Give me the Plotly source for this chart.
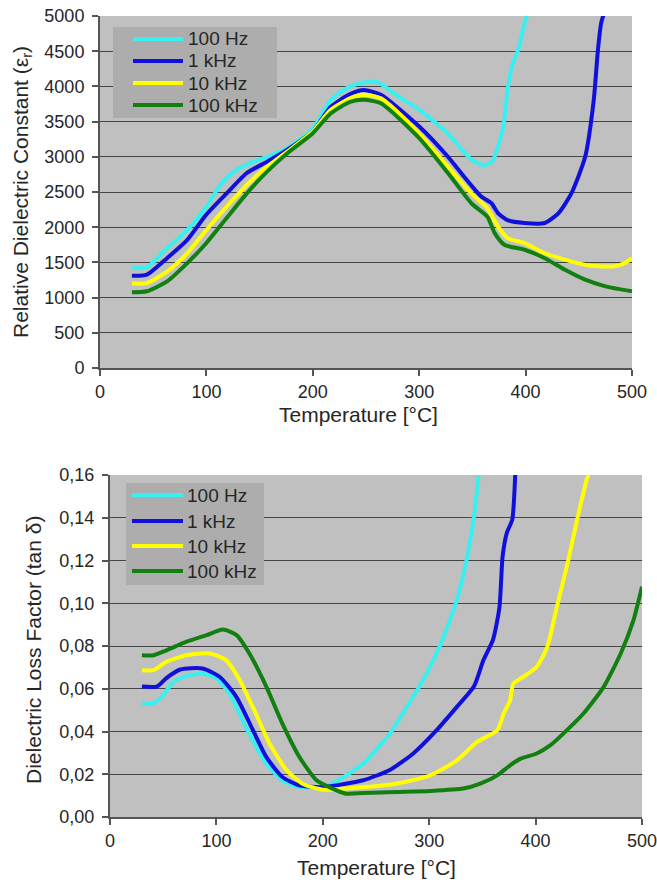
import plotly.graph_objects as go

# ---------------- Top chart: Relative dielectric constant ----------------
t_er_100hz = [30, 44, 63, 82, 100, 113, 126, 141, 157, 176, 200, 217, 235, 250, 261, 280, 300, 327, 349, 361, 369, 374, 379, 383, 388, 393, 399, 403]
er_100hz = [1420, 1430, 1700, 1960, 2290, 2600, 2790, 2910, 3000, 3120, 3400, 3810, 4000, 4060, 4060, 3860, 3670, 3330, 2960, 2880, 2940, 3150, 3430, 3950, 4330, 4520, 4900, 5100]

t_er_1khz = [30, 44, 63, 82, 100, 119, 138, 157, 176, 200, 217, 235, 248, 264, 300, 327, 342, 358, 368, 374, 383, 399, 418, 431, 443, 456, 464, 468, 471, 475]
er_1khz = [1310, 1325, 1560, 1820, 2180, 2480, 2770, 2930, 3100, 3360, 3710, 3890, 3950, 3880, 3430, 3000, 2720, 2440, 2340, 2200, 2100, 2060, 2060, 2200, 2480, 3000, 3800, 4520, 4900, 5100]

t_er_10khz = [30, 44, 63, 82, 100, 119, 138, 157, 176, 200, 217, 235, 248, 264, 300, 327, 349, 364, 374, 383, 399, 418, 437, 456, 468, 484, 493, 500]
er_10khz = [1200, 1206, 1370, 1630, 1960, 2290, 2600, 2860, 3075, 3360, 3670, 3830, 3880, 3830, 3330, 2860, 2480, 2270, 2010, 1845, 1775, 1630, 1540, 1465, 1445, 1445, 1490, 1560]

t_er_100khz = [30, 44, 63, 82, 100, 119, 138, 157, 176, 200, 217, 235, 248, 264, 300, 327, 349, 364, 371, 380, 399, 418, 437, 456, 475, 500]
er_100khz = [1075, 1090, 1230, 1490, 1775, 2130, 2480, 2790, 3050, 3335, 3620, 3780, 3810, 3760, 3265, 2770, 2340, 2150, 1915, 1750, 1680, 1560, 1395, 1255, 1160, 1090]

# ---------------- Bottom chart: Dielectric loss factor ----------------
t_tan_100hz = [30, 40, 50, 59, 72, 87, 100, 112, 125, 134, 147, 162, 178, 206, 222, 238, 263, 279, 294, 310, 326, 335, 342, 347]
tan_100hz = [0.053, 0.053, 0.057, 0.063, 0.066, 0.067, 0.065, 0.058, 0.045, 0.036, 0.025, 0.017, 0.014, 0.0148, 0.0195, 0.025, 0.039, 0.0515, 0.064, 0.080, 0.1015, 0.120, 0.1405, 0.162]

t_tan_1khz = [30, 44, 53, 66, 87, 103, 119, 134, 147, 162, 178, 200, 238, 263, 285, 307, 326, 342, 351, 360, 366, 369, 373, 378, 381]
tan_1khz = [0.061, 0.061, 0.065, 0.069, 0.0695, 0.0656, 0.056, 0.041, 0.028, 0.0187, 0.0148, 0.014, 0.0172, 0.022, 0.0297, 0.0406, 0.0515, 0.061, 0.0734, 0.083, 0.098, 0.122, 0.133, 0.139, 0.162]

t_tan_10khz = [30, 41, 53, 72, 94, 109, 122, 137, 150, 166, 181, 200, 238, 269, 301, 326, 345, 364, 370, 376, 379, 386, 401, 411, 420, 430, 439, 448, 451]
tan_10khz = [0.0687, 0.0687, 0.0726, 0.0757, 0.0765, 0.0734, 0.064, 0.0484, 0.0343, 0.0219, 0.0156, 0.0128, 0.014, 0.0156, 0.0195, 0.0265, 0.0351, 0.0406, 0.0484, 0.0546, 0.0624, 0.0648, 0.0702, 0.0796, 0.0983, 0.1186, 0.139, 0.1577, 0.162]

t_tan_100khz = [30, 41, 53, 72, 91, 106, 119, 131, 147, 162, 178, 194, 206, 222, 238, 269, 301, 332, 348, 364, 376, 386, 401, 414, 426, 445, 464, 480, 492, 500]
tan_100khz = [0.0757, 0.0757, 0.078, 0.082, 0.0851, 0.0877, 0.0851, 0.0765, 0.0609, 0.0437, 0.0281, 0.0172, 0.014, 0.0109, 0.0112, 0.0117, 0.0122, 0.0133, 0.0156, 0.0195, 0.0242, 0.0273, 0.0297, 0.0336, 0.039, 0.0484, 0.0609, 0.0765, 0.0921, 0.1077]

labels = ["100 Hz", "1 kHz", "10 kHz", "100 kHz"]
colors = ["#38f0f0", "#1010dd", "#ffff00", "#118011"]

x_title = "Temperature [°C]"
y_title_top = "Relative Dielectric Constant (ε<sub>r</sub>)"
y_title_bot = "Dielectric Loss Factor (tan δ)"

top_series = [(t_er_100hz, er_100hz), (t_er_1khz, er_1khz), (t_er_10khz, er_10khz), (t_er_100khz, er_100khz)]
bot_series = [(t_tan_100hz, tan_100hz), (t_tan_1khz, tan_1khz), (t_tan_10khz, tan_10khz), (t_tan_100khz, tan_100khz)]

W, H = 657, 884
FONT = "Liberation Sans, Arial, sans-serif"
TXT = "#262626"

fig = go.Figure()
for (tx, ty), name, c in zip(top_series, labels, colors):
    fig.add_trace(go.Scatter(x=tx, y=ty, name=name, mode="lines", showlegend=False,
                             line=dict(color=c, width=4, shape="spline", smoothing=0.6),
                             xaxis="x", yaxis="y"))
for (tx, ty), name, c in zip(bot_series, labels, colors):
    fig.add_trace(go.Scatter(x=tx, y=ty, name=name, mode="lines", showlegend=False,
                             line=dict(color=c, width=4, shape="spline", smoothing=0.6),
                             xaxis="x2", yaxis="y2"))


def px_x(p):
    return p / W


def px_y(p):
    return 1 - p / H


axis_common = dict(
    showline=True, linecolor="#555555", linewidth=2,
    ticks="outside", ticklen=6, tickcolor="#555555", tickwidth=2,
    tickfont=dict(family=FONT, size=18, color=TXT),
    zeroline=False, mirror=False, automargin=False, ticklabeloverflow="allow",
)

title_font = dict(family=FONT, size=21, color=TXT)
legend_font = dict(family=FONT, size=19, color=TXT)

shapes = []
annotations = [
    dict(text=x_title, x=px_x(358), y=px_y(414), xref="paper", yref="paper",
         xanchor="center", yanchor="middle", showarrow=False, font=title_font),
    dict(text=x_title, x=px_x(376), y=px_y(867), xref="paper", yref="paper",
         xanchor="center", yanchor="middle", showarrow=False, font=title_font),
    dict(text=y_title_top, x=px_x(22), y=px_y(192), xref="paper", yref="paper",
         xanchor="center", yanchor="middle", showarrow=False, textangle=-90, font=title_font),
    dict(text=y_title_bot, x=px_x(33), y=px_y(650), xref="paper", yref="paper",
         xanchor="center", yanchor="middle", showarrow=False, textangle=-90, font=title_font),
]

# Legend boxes (drawn like the original spreadsheet legend)
legend_specs = [
    # box x0, x1, y0, y1, sample x0, x1, text x, row y positions
    dict(box=(113, 277, 27, 118), sx=(133, 183), tx=186, rows=[39, 61, 83, 105]),
    dict(box=(126, 264, 483, 585), sx=(132, 183), tx=185, rows=[495, 521, 546, 571]),
]
for spec in legend_specs:
    bx0, bx1, by0, by1 = spec["box"]
    shapes.append(dict(type="rect", xref="paper", yref="paper",
                       x0=px_x(bx0), x1=px_x(bx1), y0=px_y(by1), y1=px_y(by0),
                       fillcolor="#adadad", line=dict(width=0), layer="above"))
    for name, c, ry in zip(labels, colors, spec["rows"]):
        shapes.append(dict(type="line", xref="paper", yref="paper",
                           x0=px_x(spec["sx"][0]), x1=px_x(spec["sx"][1]),
                           y0=px_y(ry), y1=px_y(ry),
                           line=dict(color=c, width=4), layer="above"))
        annotations.append(dict(text=name, x=px_x(spec["tx"]), y=px_y(ry), xref="paper", yref="paper",
                                xanchor="left", yanchor="middle", showarrow=False, font=legend_font))

fig.update_layout(
    width=W, height=H,
    margin=dict(l=0, r=0, t=0, b=0),
    paper_bgcolor="white", plot_bgcolor="#c0c0c0",
    separators=",.",
    showlegend=False,
    xaxis=dict(domain=[px_x(100), px_x(632)], anchor="y", range=[0, 500],
               tickvals=[0, 100, 200, 300, 400, 500], showgrid=False, **axis_common),
    yaxis=dict(domain=[px_y(368), px_y(16)], anchor="x", range=[0, 5000],
               dtick=500, tickformat="d", showgrid=True, gridcolor="#454545", gridwidth=1,
               ticklabelstandoff=4, **axis_common),
    xaxis2=dict(domain=[px_x(110), px_x(642)], anchor="y2", range=[0, 500],
                tickvals=[0, 100, 200, 300, 400, 500], showgrid=False, **axis_common),
    yaxis2=dict(domain=[px_y(817), px_y(475)], anchor="x2", range=[0, 0.16],
                dtick=0.02, tickformat=".2f", showgrid=True, gridcolor="#454545", gridwidth=1,
                ticklabelstandoff=4, **axis_common),
    shapes=shapes,
    annotations=annotations,
)

fig.write_html("out.html")
